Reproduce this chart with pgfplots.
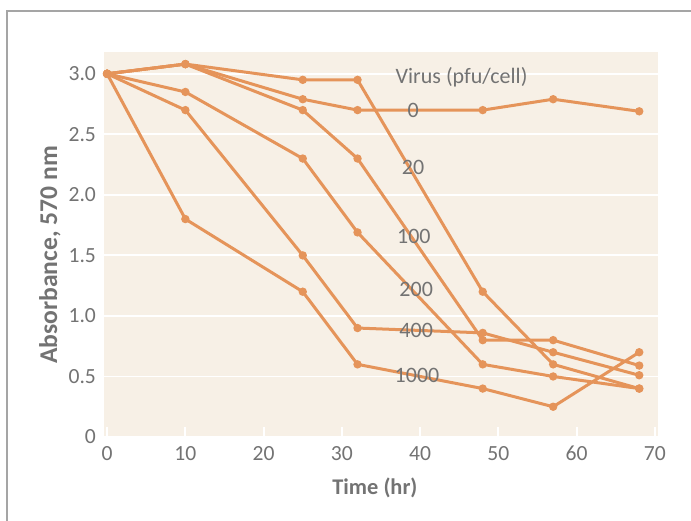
\documentclass[border=0pt]{standalone}
\usepackage{pgfplots}
\pgfplotsset{compat=1.18}
\usepackage{fontspec}
\setmainfont{Carlito}
\definecolor{bgc}{RGB}{247,240,230}
\definecolor{linec}{RGB}{229,148,90}
\definecolor{txt}{RGB}{115,115,115}
\definecolor{framec}{RGB}{165,165,165}
\tikzset{orl/.style={color=linec, solid, line width=1.5pt, mark=*, mark size=1.3pt, mark options={solid, fill=linec, draw=linec}}}
\begin{document}
\begin{tikzpicture}[x=1pt,y=1pt]
\path[use as bounding box] (0,0) rectangle (345.5,260);
\draw[framec, line width=1pt] (3.5,-1) -- (3.5,254.5) -- (347,254.5);
\begin{axis}[
  at={(52pt,41.5pt)}, anchor=south west,
  scale only axis, width=277pt, height=192.5pt,
  xmin=-0.4, xmax=70.4, ymin=0, ymax=3.18,
  axis background/.style={fill=bgc},
  axis line style={draw=none},
  xtick={0,10,20,30,40,50,60,70},
  xticklabels={0,10,20,30,40,50,60,70},
  ytick={0,0.5,1,1.5,2,2.5,3},
  yticklabels={0,0.5,1.0,1.5,2.0,2.5,3.0},
  xtick pos=bottom, ytick pos=left,
  tick align=inside,
  major tick length=5pt,
  xtick style={white, line width=1pt},
  ytick style={draw=none},
  ymajorgrids, grid style={white, line width=0.9pt},
  tick label style={font=\fontsize{10.8}{12}\selectfont, text=txt},
  yticklabel style={xshift=-0.5pt},
  xticklabel style={yshift=-1pt},
  /pgf/number format/assume math mode=true,
  xlabel={\bfseries Time (hr)},
  ylabel={\bfseries Absorbance, 570 nm},
  xlabel style={font=\fontsize{11.2}{13}\selectfont, text=txt, at={(axis description cs:0.489,-0.132)}, anchor=center},
  ylabel style={font=\fontsize{12.8}{14}\selectfont, text=txt, at={(axis description cs:-0.0975,0.473)}, anchor=center, rotate=0},
]
% 0
\addplot[orl] coordinates {(0,3.0) (10,3.08) (25,2.79) (32,2.70) (48,2.70) (57,2.79) (68,2.69)};
% 20
\addplot[orl] coordinates {(0,3.0) (10,3.08) (25,2.95) (32,2.95) (48,1.20) (57,0.60) (68,0.40)};
% 100
\addplot[orl] coordinates {(0,3.0) (10,3.08) (25,2.70) (32,2.30) (48,0.80) (57,0.80) (68,0.59)};
% 200
\addplot[orl] coordinates {(0,3.0) (10,2.85) (25,2.30) (32,1.69) (48,0.60) (57,0.50) (68,0.40)};
% 400
\addplot[orl] coordinates {(0,3.0) (10,2.70) (25,1.50) (32,0.90) (48,0.86) (57,0.70) (68,0.51)};
% 1000
\addplot[orl] coordinates {(0,3.0) (10,1.80) (25,1.20) (32,0.60) (48,0.40) (57,0.25) (68,0.70)};
\begin{scope}[every node/.style={font=\fontsize{11}{13}\selectfont, text=txt}]
\node[anchor=base] at (axis cs:45.3,2.92) {Virus (pfu/cell)};
\node at (axis cs:39.1,2.70) {0};
\node at (axis cs:39.1,2.23) {20};
\node at (axis cs:39.2,1.655) {100};
\node at (axis cs:39.5,1.22) {200};
\node at (axis cs:39.5,0.88) {400};
\node at (axis cs:39.6,0.51) {1000};
\end{scope}
\end{axis}
\end{tikzpicture}
\end{document}
